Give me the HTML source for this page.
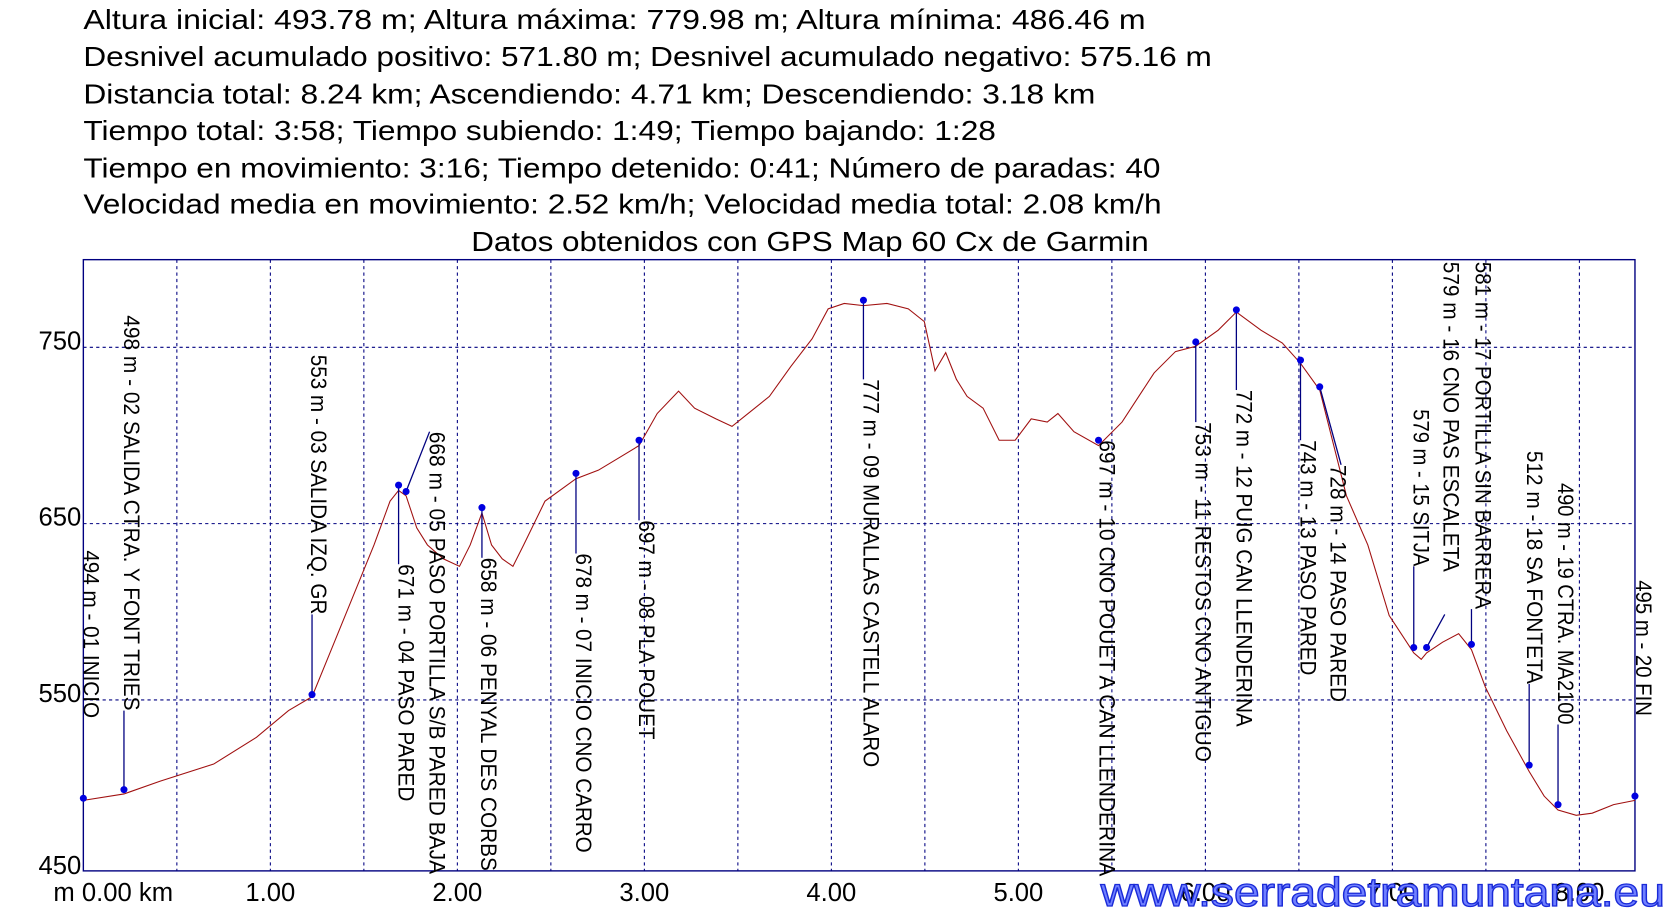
<!DOCTYPE html>
<html><head><meta charset="utf-8"><style>
html,body{margin:0;padding:0;background:#fff;}
svg{display:block;}
</style></head><body>
<svg width="1676" height="921" viewBox="0 0 1568.4 861.9" preserveAspectRatio="none" xmlns="http://www.w3.org/2000/svg" font-family="Liberation Sans, Arial, sans-serif">
<rect width="1568.4" height="861.9" fill="#fff"/>
<g font-size="26" fill="#000">
<text x="78" y="27" textLength="994" lengthAdjust="spacingAndGlyphs">Altura inicial: 493.78 m; Altura máxima: 779.98 m; Altura mínima: 486.46 m</text>
<text x="78" y="62" textLength="1056" lengthAdjust="spacingAndGlyphs">Desnivel acumulado positivo: 571.80 m; Desnivel acumulado negativo: 575.16 m</text>
<text x="78" y="97" textLength="947" lengthAdjust="spacingAndGlyphs">Distancia total: 8.24 km; Ascendiendo: 4.71 km; Descendiendo: 3.18 km</text>
<text x="78" y="131" textLength="854" lengthAdjust="spacingAndGlyphs">Tiempo total: 3:58; Tiempo subiendo: 1:49; Tiempo bajando: 1:28</text>
<text x="78" y="166" textLength="1008" lengthAdjust="spacingAndGlyphs">Tiempo en movimiento: 3:16; Tiempo detenido: 0:41; Número de paradas: 40</text>
<text x="78" y="200" textLength="1009" lengthAdjust="spacingAndGlyphs">Velocidad media en movimiento: 2.52 km/h; Velocidad media total: 2.08 km/h</text>
<text x="441" y="235" textLength="634" lengthAdjust="spacingAndGlyphs">Datos obtenidos con GPS Map 60 Cx de Garmin</text>
</g>
<g stroke="#000080" stroke-width="1" stroke-dasharray="3,3" fill="none">
<line x1="78" y1="325" x2="1530" y2="325"/>
<line x1="78" y1="490" x2="1530" y2="490"/>
<line x1="78" y1="655" x2="1530" y2="655"/>
<line x1="165.5" y1="243" x2="165.5" y2="815"/>
<line x1="253" y1="243" x2="253" y2="815"/>
<line x1="340.5" y1="243" x2="340.5" y2="815"/>
<line x1="428" y1="243" x2="428" y2="815"/>
<line x1="515.5" y1="243" x2="515.5" y2="815"/>
<line x1="603" y1="243" x2="603" y2="815"/>
<line x1="690.5" y1="243" x2="690.5" y2="815"/>
<line x1="778" y1="243" x2="778" y2="815"/>
<line x1="865.5" y1="243" x2="865.5" y2="815"/>
<line x1="953" y1="243" x2="953" y2="815"/>
<line x1="1040.5" y1="243" x2="1040.5" y2="815"/>
<line x1="1128" y1="243" x2="1128" y2="815"/>
<line x1="1215.5" y1="243" x2="1215.5" y2="815"/>
<line x1="1303" y1="243" x2="1303" y2="815"/>
<line x1="1390.5" y1="243" x2="1390.5" y2="815"/>
<line x1="1478" y1="243" x2="1478" y2="815"/>
</g>
<rect x="78" y="243" width="1452" height="572" fill="none" stroke="#000080" stroke-width="1.3"/>
<g font-size="24" fill="#000">
<text x="76" y="327" text-anchor="end">750</text>
<text x="76" y="492" text-anchor="end">650</text>
<text x="76" y="657" text-anchor="end">550</text>
<text x="76" y="818" text-anchor="end">450</text>
<text x="50" y="843">m 0.00 km</text>
<text x="253" y="843" text-anchor="middle">1.00</text>
<text x="428" y="843" text-anchor="middle">2.00</text>
<text x="603" y="843" text-anchor="middle">3.00</text>
<text x="778" y="843" text-anchor="middle">4.00</text>
<text x="953" y="843" text-anchor="middle">5.00</text>
<text x="1128" y="843" text-anchor="middle">6.00</text>
<text x="1303" y="843" text-anchor="middle">7.00</text>
<text x="1478" y="843" text-anchor="middle">8.00</text>
</g>
<polyline fill="none" stroke="#a01010" stroke-width="1" points="78,749 116,743 150,731 200,715 240,690 270,665 292,652 310,608 330,559 350,510 365,469 373,459 380,464 390,494 400,510 415,523 430,530 440,510 451,480 460,510 470,523 480,530 490,510 510,469 539,448 560,440 580,428 598,417 615,387 635,366 650,382 670,392 685,399 700,387 720,371 740,343 760,317 775,289 790,284 808,286 830,284 850,289 865,301 875,347 885,330 895,355 905,371 920,382 935,412 950,412 965,392 980,395 990,387 1005,404 1028,417 1050,395 1080,349 1100,329 1119,324 1140,309 1157,292 1180,309 1200,321 1217,340 1235,365 1260,464 1280,510 1300,576 1323,611 1330,617 1335,611 1350,601 1365,593 1377,608 1390,643 1410,684 1431,722 1445,745 1458,758 1475,763 1490,761 1510,753 1530,749"/>
<g stroke="#000080" stroke-width="1.2">
<line x1="116" y1="665" x2="116" y2="739"/>
<line x1="292" y1="575" x2="292" y2="650"/>
<line x1="373" y1="454" x2="373" y2="528"/>
<line x1="380" y1="460" x2="402" y2="404"/>
<line x1="451" y1="475" x2="451" y2="522"/>
<line x1="539" y1="443" x2="539" y2="518"/>
<line x1="598" y1="412" x2="598" y2="487"/>
<line x1="808" y1="281" x2="808" y2="355"/>
<line x1="1119" y1="320" x2="1119" y2="395"/>
<line x1="1157" y1="290" x2="1157" y2="365"/>
<line x1="1217" y1="337" x2="1217" y2="412"/>
<line x1="1235" y1="362" x2="1255" y2="435"/>
<line x1="1323" y1="530" x2="1323" y2="606"/>
<line x1="1335" y1="606" x2="1352" y2="575"/>
<line x1="1377" y1="570" x2="1377" y2="603"/>
<line x1="1431" y1="640" x2="1431" y2="716"/>
<line x1="1458" y1="678" x2="1458" y2="753"/>
</g>
<g fill="#0000e0">
<circle cx="78" cy="747" r="3.3"/><circle cx="116" cy="739" r="3.3"/><circle cx="292" cy="650" r="3.3"/>
<circle cx="373" cy="454" r="3.3"/><circle cx="380" cy="460" r="3.3"/><circle cx="451" cy="475" r="3.3"/>
<circle cx="539" cy="443" r="3.3"/><circle cx="598" cy="412" r="3.3"/><circle cx="808" cy="281" r="3.3"/>
<circle cx="1028" cy="412" r="3.3"/><circle cx="1119" cy="320" r="3.3"/><circle cx="1157" cy="290" r="3.3"/>
<circle cx="1217" cy="337" r="3.3"/><circle cx="1235" cy="362" r="3.3"/><circle cx="1323" cy="606" r="3.3"/>
<circle cx="1335" cy="606" r="3.3"/><circle cx="1377" cy="603" r="3.3"/><circle cx="1431" cy="716" r="3.3"/>
<circle cx="1458" cy="753" r="3.3"/><circle cx="1530" cy="745" r="3.3"/>
</g>
<g font-size="21" fill="#000" dominant-baseline="central">
<text transform="translate(85,515) rotate(90)" textLength="157" lengthAdjust="spacingAndGlyphs">494 m - 01 INICIO</text>
<text transform="translate(123,295) rotate(90)" textLength="370" lengthAdjust="spacingAndGlyphs">498 m - 02 SALIDA CTRA. Y FONT TRIES</text>
<text transform="translate(298,332) rotate(90)" textLength="243" lengthAdjust="spacingAndGlyphs">553 m - 03 SALIDA IZQ. GR</text>
<text transform="translate(380,528) rotate(90)" textLength="222" lengthAdjust="spacingAndGlyphs">671 m - 04 PASO PARED</text>
<text transform="translate(409,404) rotate(90)" textLength="414" lengthAdjust="spacingAndGlyphs">668 m - 05 PASO PORTILLA S/B PARED BAJA</text>
<text transform="translate(457,522) rotate(90)" textLength="293" lengthAdjust="spacingAndGlyphs">658 m - 06 PENYAL DES CORBS</text>
<text transform="translate(546,518) rotate(90)" textLength="280" lengthAdjust="spacingAndGlyphs">678 m - 07 INICIO CNO CARRO</text>
<text transform="translate(605,487) rotate(90)" textLength="205" lengthAdjust="spacingAndGlyphs">697 m - 08 PLA POUET</text>
<text transform="translate(815,355) rotate(90)" textLength="363" lengthAdjust="spacingAndGlyphs">777 m - 09 MURALLAS CASTELL ALARO</text>
<text transform="translate(1036,412) rotate(90)" textLength="408" lengthAdjust="spacingAndGlyphs">697 m - 10 CNO POUET A CAN LLENDERINA</text>
<text transform="translate(1126,395) rotate(90)" textLength="318" lengthAdjust="spacingAndGlyphs">753 m - 11 RESTOS CNO ANTIGUO</text>
<text transform="translate(1164,365) rotate(90)" textLength="315" lengthAdjust="spacingAndGlyphs">772 m - 12 PUIG CAN LLENDERINA</text>
<text transform="translate(1224,412) rotate(90)" textLength="220" lengthAdjust="spacingAndGlyphs">743 m - 13 PASO PARED</text>
<text transform="translate(1252,435) rotate(90)" textLength="222" lengthAdjust="spacingAndGlyphs">728 m - 14 PASO PARED</text>
<text transform="translate(1330,383) rotate(90)" textLength="147" lengthAdjust="spacingAndGlyphs">579 m - 15 SITJA</text>
<text transform="translate(1358,245) rotate(90)" textLength="290" lengthAdjust="spacingAndGlyphs">579 m - 16 CNO PAS ESCALETA</text>
<text transform="translate(1388,245) rotate(90)" textLength="325" lengthAdjust="spacingAndGlyphs">581 m - 17 PORTILLA SIN BARRERA</text>
<text transform="translate(1436,422) rotate(90)" textLength="218" lengthAdjust="spacingAndGlyphs">512 m - 18 SA FONTETA</text>
<text transform="translate(1465,452) rotate(90)" textLength="226" lengthAdjust="spacingAndGlyphs">490 m - 19 CTRA. MA2100</text>
<text transform="translate(1538,543) rotate(90)" textLength="127" lengthAdjust="spacingAndGlyphs">495 m - 20 FIN</text>
</g>
<text x="1030" y="848" font-size="38" fill="#7080ff" stroke="#1a2ad8" stroke-width="1.2" textLength="528" lengthAdjust="spacingAndGlyphs">www.serradetramuntana.eu</text>
</svg>
</body></html>
